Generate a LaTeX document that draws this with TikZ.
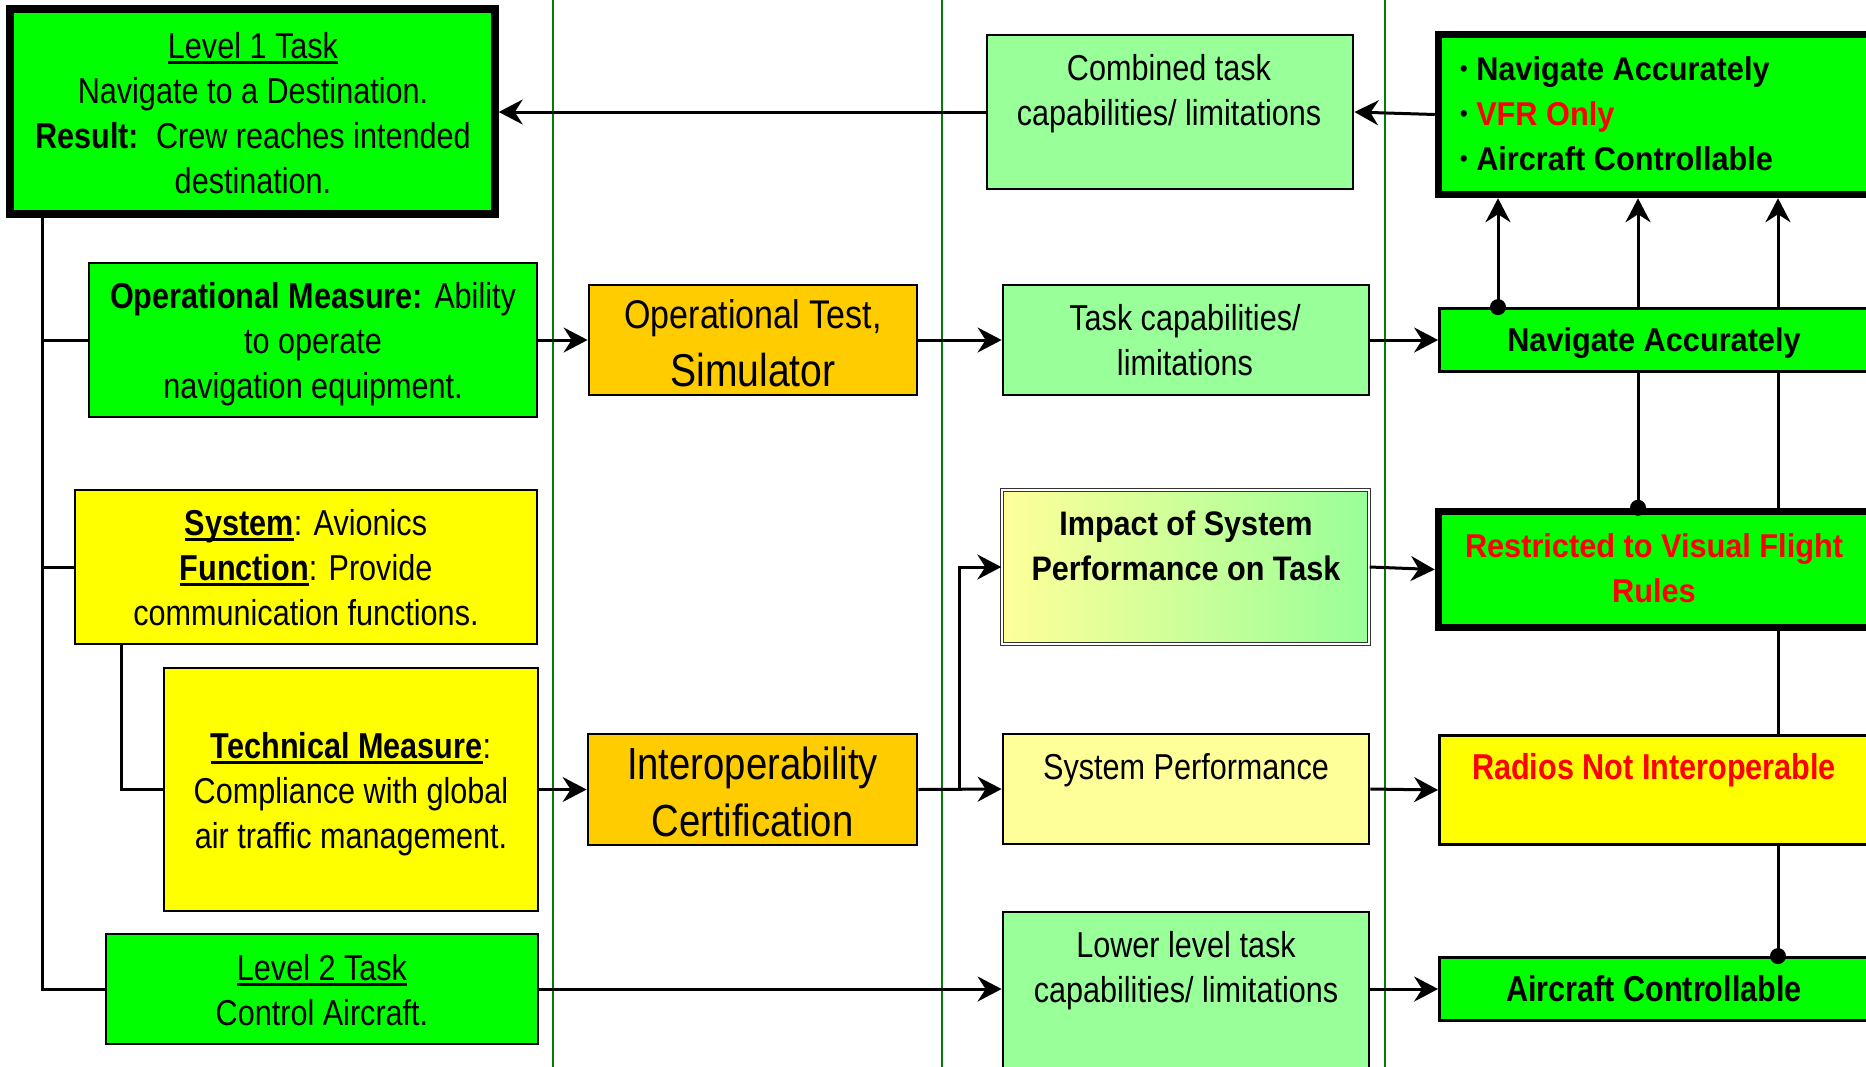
\documentclass[tikz,border=0pt]{standalone}
\usepackage{fontspec}
\setmainfont[FakeStretch=0.85]{Liberation Sans}
\newfontfamily\widefont[FakeStretch=0.93]{Liberation Sans}
\newfontfamily\midfont[FakeStretch=0.9]{Liberation Sans}
\usetikzlibrary{arrows.meta}
\pgfdeclarelayer{bg}
\pgfsetlayers{bg,main}
\definecolor{bgreen}{HTML}{00FF00}
\definecolor{lgreen}{HTML}{99FF99}
\definecolor{byellow}{HTML}{FFFF00}
\definecolor{lyellow}{HTML}{FFFF99}
\definecolor{orng}{HTML}{FFCC00}
\definecolor{sepgreen}{HTML}{008000}
\definecolor{tred}{HTML}{FF0000}
\newsavebox\ulbox
\newcommand{\myul}[1]{\leavevmode\sbox\ulbox{#1}\rlap{\rule[-5.5pt]{\wd\ulbox}{3pt}}\usebox\ulbox}
\newcommand{\smbul}{\raisebox{0.1em}{\scalebox{0.7}{\textbullet}}}
\begin{document}
\begin{tikzpicture}[x=1pt,y=-1pt,
  thin/.style={draw=black, line width=2.8pt, inner sep=0pt},
  heavy/.style={draw=black, line width=7.5pt, inner sep=0pt},
  txt/.style={inner sep=0pt, align=center, anchor=base, font=\fontsize{36}{45}\selectfont},
  bigtxt/.style={txt, font=\fontsize{40}{58}\selectfont},
  hugetxt/.style={txt, font=\fontsize{45}{57}\selectfont},
  rtxt/.style={txt, font=\widefont\bfseries\fontsize{33}{45}\selectfont},
  btxt/.style={txt, font=\bfseries\fontsize{36}{45}\selectfont},
  conn/.style={draw=black, line width=3pt},
  arr/.style={conn, -{Stealth[length=24pt,width=25pt,inset=8pt]}},
  sep/.style={draw=sepgreen, line width=2pt},
  dot/.style={fill=black}
]
\useasboundingbox (0,0) rectangle (1866,1066);

% ---------- boxes ----------
\node[heavy, fill=bgreen, minimum width=485pt, minimum height=205pt] (L1) at (252.5,111.5) {};
\node[thin, fill=bgreen, minimum width=448pt, minimum height=154pt] (opm) at (313,340) {};
\node[thin, fill=byellow, minimum width=462pt, minimum height=154pt] (sys) at (306,567) {};
\node[thin, fill=byellow, minimum width=374pt, minimum height=243pt] (tech) at (351,789.5) {};
\node[thin, fill=bgreen, minimum width=432pt, minimum height=110pt] (lv2) at (322,989) {};

\node[thin, fill=orng, minimum width=328pt, minimum height=110pt] (optest) at (753,340) {};
\node[thin, fill=orng, minimum width=329pt, minimum height=111pt] (interop) at (752.5,789.5) {};

\node[thin, fill=lgreen, minimum width=366pt, minimum height=154pt] (comb) at (1170,112) {};
\node[thin, fill=lgreen, minimum width=366pt, minimum height=110pt] (taskcap) at (1186,340) {};
\node[draw=black!80, line width=1.4pt, double=white, double distance=1.6pt, inner sep=0pt,
      left color=lyellow, right color=lgreen, minimum width=367pt, minimum height=154pt] (impact) at (1185.5,567) {};
\node[thin, fill=lyellow, minimum width=366pt, minimum height=110pt] (sysperf) at (1186,789) {};
\node[thin, fill=lgreen, minimum width=366pt, minimum height=163pt] (lower) at (1186,993.5) {};

\node[heavy, fill=bgreen, minimum width=437.5pt, minimum height=160pt] (bullets) at (1657.25,114.5) {};
\node[thin, fill=bgreen, minimum width=432.5pt, minimum height=63pt] (nav) at (1655.75,340) {};
\node[heavy, fill=bgreen, minimum width=437.5pt, minimum height=116pt] (restr) at (1657.25,569.5) {};
\node[thin, fill=byellow, minimum width=432.5pt, minimum height=109pt] (radios) at (1655.75,790) {};
\node[thin, fill=bgreen, minimum width=432.5pt, minimum height=63pt] (acft) at (1655.75,989) {};

% ---------- texts (anchored at the baseline of the last line) ----------
\node[txt] (L1t) at (253,193) {\myul{Level 1 Task}\\Navigate to a Destination.\\\textbf{Result:}\ \ Crew reaches intended\\destination.};
\node[txt] (opmt) at (313,398) {\textbf{Operational Measure:} Ability\\to operate\\navigation equipment.};
\node[txt] (syst) at (306,625) {\myul{\textbf{System}}: Avionics\\\myul{\textbf{Function}}: Provide\\communication functions.};
\node[txt] (techt) at (351,848) {\myul{\textbf{Technical Measure}}:\\Compliance with global\\air traffic management.};
\node[txt] (lv2t) at (322,1025) {\myul{Level 2 Task}\\Control Aircraft.};
\node[bigtxt] (optestt) at (753,386) {Operational Test,\\{\fontsize{46}{58}\selectfont Simulator}};
\node[hugetxt] (interopt) at (752.5,836) {Interoperability\\Certification};
\node[txt] (combt) at (1169,125) {Combined task\\capabilities/ limitations};
\node[txt] (taskcapt) at (1185,375) {Task capabilities/\\limitations};
\node[txt, font=\midfont\bfseries\fontsize{34}{45}\selectfont] (impactt) at (1186,580) {Impact of System\\Performance on Task};
\node[txt] (sysperft) at (1186,779) {System Performance};
\node[txt] (lowert) at (1186,1002) {Lower level task\\capabilities/ limitations};
\node[rtxt, align=left, anchor=base west] (bullett) at (1460,170) {\smbul\ Navigate Accurately\\\smbul\ \textcolor{tred}{VFR Only}\\\smbul\ Aircraft Controllable};
\node[rtxt] (navt) at (1654,351) {Navigate Accurately};
\node[rtxt, text=tred] (restrt) at (1654,602) {Restricted to Visual Flight\\Rules};
\node[btxt, text=tred] (radiost) at (1654,779) {Radios Not Interoperable};
\node[btxt] (acftt) at (1654,1001) {Aircraft Controllable};

% ---------- helper coordinates ----------
\coordinate (sx) at (42,0);
\coordinate (sx2) at (121,0);
\coordinate (bx) at (959,0);
\coordinate (v1) at (1498,0);
\coordinate (v2) at (1638,0);
\coordinate (v3) at (1778,0);

% ---------- background: separators and lines behind boxes ----------
\begin{pgfonlayer}{bg}
\fill[white] (0,0) rectangle (1866,1066);
\draw[sep] (553,-10) -- (553,1080);
\draw[sep] (942,-10) -- (942,1080);
\draw[sep] (1385,-10) -- (1385,1080);
\draw[arr] (v2 |- restr.north) -- (v2 |- bullets.south);
\draw[arr] (v3 |- acft.north) -- (v3 |- bullets.south);
\end{pgfonlayer}

% ---------- connectors ----------
\draw[conn] (L1.south -| sx) |- (lv2.west);
\draw[conn] (sx |- opm.west) -- (opm.west);
\draw[conn] (sx |- sys.west) -- (sys.west);
\draw[conn] (sys.south -| sx2) |- (tech.west);

\draw[arr] (comb.west) -- (comb.west -| L1.east);
\draw[arr] (bullets.west) -- (comb.east);
\draw[arr] (opm.east) -- (optest.west);
\draw[arr] (optest.east) -- (taskcap.west);
\draw[arr] (taskcap.east) -- (nav.west);
\draw[arr] (tech.east) -- (interop.west);
\draw[arr] (interop.east) -- (sysperf.west);
\draw[arr] (bx |- interop.east) |- (impact.west);
\draw[arr] (impact.east) -- (restr.west);
\draw[arr] (sysperf.east) -- (radios.west);
\draw[arr] (lv2.east) -- (lv2.east -| lower.west);
\draw[arr] (acft.west -| lower.east) -- (acft.west);
\draw[arr] (v1 |- nav.north) -- (v1 |- bullets.south);

\fill[dot] (v1 |- nav.north) circle[radius=8pt];
\fill[dot] (v2 |- restr.north) circle[radius=8pt];
\fill[dot] (v3 |- acft.north) circle[radius=8pt];
\end{tikzpicture}
\end{document}
